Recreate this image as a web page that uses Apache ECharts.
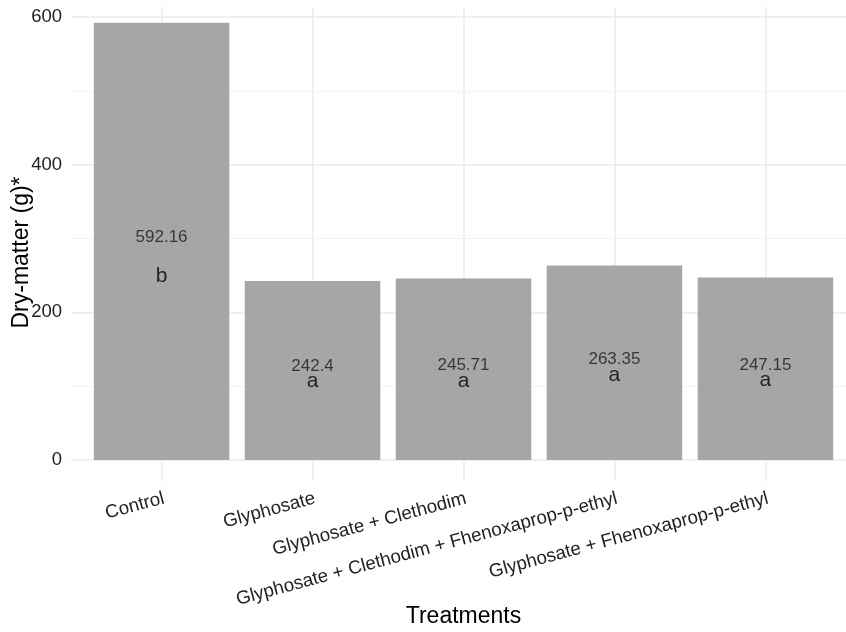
<!DOCTYPE html>
<html>
<head>
<meta charset="utf-8">
<script src="https://cdn.jsdelivr.net/npm/echarts@6/dist/echarts.min.js"></script>
<style>
  html, body { margin: 0; padding: 0; background: #fff; }
  #chart { width: 846px; height: 632px; }
</style>
</head>
<body>
<div id="chart"></div>
<script>
// treatments and mean dry-matter
const categories = [
  "Control",
  "Glyphosate",
  "Glyphosate + Clethodim",
  "Glyphosate + Clethodim + Fhenoxaprop-p-ethyl",
  "Glyphosate + Fhenoxaprop-p-ethyl"
];
const dryMatter = [592.16, 242.4, 245.71, 263.35, 247.15];
const letters = ["b", "a", "a", "a", "a"];
// y where the text labels sit inside the bars (data units)
const valueLabelY = [301, 127, 128.5, 136.5, 128.5];
const letterLabelY = [249, 106.5, 106.5, 114.5, 107.5];
const yTicks = [0, 200, 400, 600];

const font = "Liberation Sans, Arial, sans-serif";
const gridColor = "#EBEBEB";

const barData = dryMatter.map((v, i) => [i + 1, v]);
const valueLabels = valueLabelY.map((y, i) => [i + 1, y]);
const letterLabels = letterLabelY.map((y, i) => [i + 1, y]);

let myChart = echarts.init(document.getElementById("chart"), null, { renderer: "canvas" });

const option = {
  backgroundColor: "#ffffff",
  animation: false,
  grid: [
    // bars + horizontal grid
    { left: 71, top: 17, width: 785, height: 443, outerBoundsMode: "none", containLabel: false },
    // vertical grid + category labels (ticks at bar centres)
    { left: 161.5, top: 7, width: 604, height: 474, outerBoundsMode: "none", containLabel: false }
  ],
  xAxis: [
    {
      type: "value", gridIndex: 0, min: 0.4, max: 5.6,
      show: false, splitLine: { show: false }
    },
    {
      type: "category", gridIndex: 1, data: categories, boundaryGap: false,
      axisLine: { show: false }, axisTick: { show: false },
      splitLine: { show: true, interval: 0, lineStyle: { color: gridColor, width: 1.5 } },
      axisLabel: {
        interval: 0, rotate: 15, align: "right", verticalAlign: "top", margin: 8,
        fontSize: 18.7, fontFamily: font, color: "#222"
      },
      name: "Treatments", nameLocation: "middle", nameGap: 124, nameMoveOverlap: false,
      nameTextStyle: { fontSize: 23, fontFamily: font, color: "#000" }
    }
  ],
  yAxis: [
    {
      type: "value", gridIndex: 0, min: yTicks[0], max: yTicks[yTicks.length - 1], interval: 200,
      axisLine: { show: false }, axisTick: { show: false },
      axisLabel: { margin: 9, fontSize: 18.5, fontFamily: font, color: "#222" },
      splitLine: { show: true, lineStyle: { color: gridColor, width: 1.5 } },
      minorTick: { show: false, splitNumber: 2 },
      minorSplitLine: { show: true, lineStyle: { color: "#F3F3F3", width: 1 } },
      name: "Dry-matter (g)*", nameLocation: "middle", nameRotate: 90, nameGap: 38,
      nameMoveOverlap: false,
      nameTextStyle: { fontSize: 23, fontFamily: font, color: "#000", padding: [0, 28, 0, 0] }
    },
    { type: "value", gridIndex: 1, show: false, splitLine: { show: false } }
  ],
  series: [
    {
      type: "bar", xAxisIndex: 0, yAxisIndex: 0, data: barData,
      barWidth: 135.5, itemStyle: { color: "#A6A6A6" }, silent: true
    },
    {
      type: "scatter", xAxisIndex: 0, yAxisIndex: 0, data: valueLabels,
      symbolSize: 1, itemStyle: { color: "rgba(0,0,0,0)" }, silent: true,
      label: {
        show: true, position: "inside", fontSize: 17, fontFamily: font, color: "#1a1a1a",
        formatter: (p) => String(dryMatter[p.dataIndex])
      }
    },
    {
      type: "scatter", xAxisIndex: 0, yAxisIndex: 0, data: letterLabels,
      symbolSize: 1, itemStyle: { color: "rgba(0,0,0,0)" }, silent: true,
      label: {
        show: true, position: "inside", fontSize: 21, fontFamily: font, color: "#000",
        formatter: (p) => letters[p.dataIndex]
      }
    }
  ]
};

myChart.setOption(option);
window.addEventListener("resize", function () {
  myChart.resize();
});
</script>
</body>
</html>
